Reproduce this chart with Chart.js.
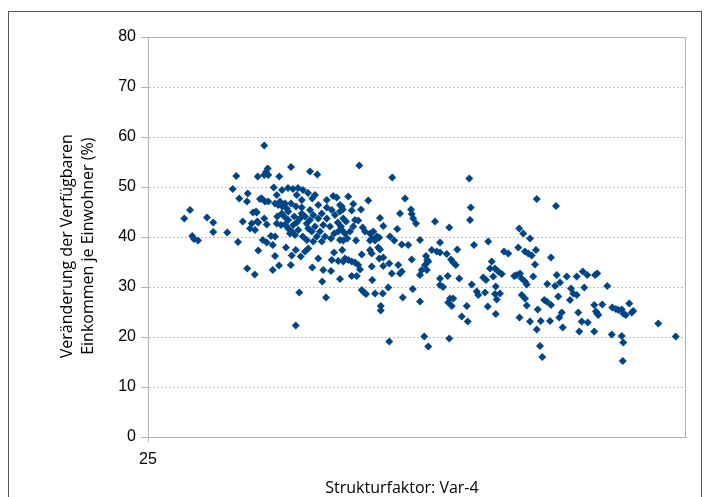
<!DOCTYPE html>
<html><head><meta charset="utf-8">
<script src="https://cdn.jsdelivr.net/npm/chart.js@4/dist/chart.umd.min.js"></script>
<style>html,body{margin:0;padding:0;background:#fff;}#wrap{position:relative;width:706px;height:497px;}</style>
</head><body><div id="wrap"><canvas id="c" width="706" height="497"></canvas></div>
<script>
const xTitle = 'Strukturfaktor: Var-4';
const yTitle = ['Veränderung der Verfügbaren', 'Einkommen je Einwohner (%)'];
const xTickValues = [25];
const yTickValues = [0, 10, 20, 30, 40, 50, 60, 70, 80];

const strukturfaktor = [
26.45,26.68,26.77,26.84,27.0,27.36,27.61,27.61,28.17,28.6,
28.53,28.39,28.99,28.65,28.96,28.79,29.2,29.32,29.15,29.37,
29.08,29.28,29.41,28.97,29.27,29.39,29.48,29.65,29.79,29.72,
29.81,29.65,30.72,30.25,31.48,31.77,30.03,29.55,29.68,29.81,
29.35,29.65,29.41,29.75,30.17,29.92,30.08,29.59,29.75,29.99,
30.08,29.99,30.24,30.71,30.52,30.75,30.91,31.11,31.28,31.41,
31.57,31.81,32.01,32.32,31.97,32.68,32.12,31.05,30.91,32.44,
32.77,32.35,32.61,32.81,30.36,30.6,30.8,31.0,31.2,31.4,
30.95,31.15,31.57,31.68,31.81,32.15,32.41,32.55,32.75,30.28,
30.21,30.37,30.55,30.48,30.61,30.35,30.45,30.61,30.15,30.32,
30.48,30.61,30.75,30.88,30.68,30.81,30.95,31.08,31.15,31.28,
31.35,31.48,31.41,31.55,31.68,31.75,31.88,32.01,32.15,32.28,
32.48,32.59,32.72,32.61,32.45,32.32,32.08,31.95,31.61,31.35,
31.19,31.01,30.85,30.72,30.92,31.15,31.48,31.61,31.81,31.95,
32.15,32.35,32.68,32.81,30.15,30.08,33.45,34.77,33.01,33.21,
33.15,32.79,32.68,33.81,33.52,35.28,35.08,35.52,35.55,35.61,
35.72,34.28,34.41,34.97,32.92,33.28,33.41,33.21,33.08,32.88,
32.75,32.97,32.81,32.68,33.32,33.59,33.68,33.88,34.01,33.95,
34.15,34.25,34.08,33.88,34.68,34.85,35.15,35.41,35.88,33.88,
33.95,34.21,34.28,33.55,32.88,33.01,33.15,33.28,33.41,33.48,
34.25,34.41,34.65,34.41,33.95,35.55,35.01,35.15,35.08,34.75,
36.12,36.17,36.08,35.95,35.88,33.15,33.35,33.97,33.55,33.64,
33.72,34.08,34.39,34.61,35.19,35.59,35.88,34.31,34.31,34.65,
36.05,36.21,37.85,37.91,37.88,36.48,37.05,36.68,38.04,38.61,
37.37,36.35,36.55,36.68,36.21,36.15,36.95,37.12,37.21,37.31,
39.24,39.41,38.75,38.68,38.88,39.01,38.81,39.15,39.65,36.68,
36.99,37.45,36.68,36.8,38.41,38.52,37.95,38.15,38.21,38.48,
38.91,38.88,39.08,38.95,37.08,37.21,37.01,37.15,37.75,38.59,
37.55,37.79,38.91,37.05,40.55,41.32,39.85,40.01,40.28,39.81,
40.08,40.21,40.35,40.52,41.12,40.48,39.75,39.88,39.95,40.08,
40.15,40.41,41.35,41.48,41.28,40.97,41.75,42.15,42.39,42.57,
42.88,42.97,42.45,41.92,42.01,42.15,41.88,41.41,39.95,40.08,
40.15,40.85,40.95,41.12,40.59,41.55,41.45,42.21,42.85,42.92,
42.97,39.86,40.28,40.71,41.08,40.55,41.59,42.35,42.59,42.25,
42.85,40.68,40.77,43.37,43.17,43.01,43.57,43.71,43.81,43.95,
44.01,44.11,44.25,44.35,44.41,45.41,43.55,43.95,44.01,46.11,
43.99
];

const veraenderung = [
43.7,45.4,40.2,39.6,39.3,43.9,42.9,41.0,40.9,39.0,
52.2,49.6,48.7,47.7,47.1,43.1,44.9,45.1,42.7,43.1,
41.7,41.4,37.3,33.7,32.5,52.1,47.6,58.3,53.7,53.0,
52.4,52.4,54.0,52.1,53.1,52.5,49.9,47.7,47.1,47.1,
44.9,43.7,42.9,42.5,44.1,40.2,40.1,39.4,38.9,38.4,
36.2,33.4,34.3,34.4,37.9,36.3,37.4,36.1,37.1,37.7,
33.9,35.7,33.4,33.2,31.1,31.6,27.9,28.9,22.3,36.9,
37.4,35.4,35.2,35.1,49.4,49.8,49.6,49.8,49.4,48.8,
48.4,47.4,47.7,48.4,46.4,47.4,48.2,47.9,46.1,47.1,
46.4,46.1,45.7,46.7,45.1,44.7,44.1,43.4,42.7,42.4,
42.5,41.7,41.1,40.4,40.7,42.4,42.9,43.7,44.7,44.1,
42.7,43.4,41.7,41.1,42.1,40.1,41.1,42.4,43.7,42.1,
44.4,42.9,42.1,41.1,40.7,39.7,40.1,39.1,39.1,39.4,
40.1,41.4,44.1,46.7,46.1,45.9,45.4,44.4,43.7,44.7,
45.9,45.4,45.1,43.7,48.4,46.7,54.3,51.9,48.1,46.6,
45.3,45.5,46.4,47.3,45.5,47.7,44.7,45.5,44.6,43.7,
42.7,43.8,42.2,41.6,43.1,43.4,43.3,42.1,41.1,40.7,
41.4,39.7,39.3,39.4,39.3,41.9,41.1,40.7,41.1,39.7,
40.1,39.9,39.3,39.3,40.1,39.3,38.5,38.4,39.4,37.4,
36.7,37.9,37.5,36.5,35.7,35.4,35.1,34.9,34.4,33.5,
35.7,35.9,34.7,34.2,34.1,35.5,34.4,33.1,32.7,32.7,
36.2,35.4,34.4,33.4,32.4,32.2,32.2,31.4,29.4,28.9,
28.6,28.7,28.7,29.9,27.9,29.6,27.1,26.2,25.3,19.1,
20.1,18.1,51.7,45.9,43.4,43.1,41.9,38.9,38.4,39.1,
37.5,37.4,37.1,36.9,35.1,33.4,36.6,35.5,34.9,34.4,
37.1,36.7,35.1,33.7,33.7,33.1,32.1,32.6,32.2,31.7,
32.2,31.7,30.4,30.0,31.9,31.4,30.5,29.1,28.4,28.9,
30.1,28.6,28.7,27.5,27.7,27.7,26.9,26.2,26.2,26.1,
24.1,23.1,24.6,19.7,47.6,46.2,41.7,40.7,39.7,37.9,
37.1,36.7,36.3,37.4,35.9,34.5,32.4,32.7,31.7,31.1,
30.5,32.1,32.4,30.9,30.2,30.6,32.1,32.1,33.1,32.4,
32.4,32.7,29.9,29.7,28.7,28.4,27.4,28.1,28.4,27.7,
26.3,27.4,27.1,26.4,25.5,24.9,23.9,24.9,26.4,25.1,
24.7,23.9,23.1,23.2,23.2,21.5,21.9,23.1,22.9,21.1,
21.1,18.2,16.0,30.2,26.5,24.4,25.9,25.6,25.4,25.5,
24.7,24.4,26.7,24.9,25.2,22.7,20.5,20.2,18.9,20.1,
15.2
];

const points = strukturfaktor.map((x, i) => ({ x: x, y: veraenderung[i] }));

const GRID = '#b3b3b3';
const tickFont = { family: '"Liberation Sans", Arial, sans-serif', size: 16 };

const decor = {
  id: 'decor',
  beforeDraw(chart) {
    const ctx = chart.ctx;
    ctx.save();
    ctx.fillStyle = '#fff';
    ctx.fillRect(0, 0, chart.width, chart.height);
    ctx.strokeStyle = '#555';
    ctx.lineWidth = 1;
    ctx.strokeRect(8.5, 11.5, 693, 600);
    ctx.restore();
  },
  beforeDatasetsDraw(chart) {
    const a = chart.chartArea, ctx = chart.ctx;
    ctx.save();
    ctx.strokeStyle = GRID;
    ctx.lineWidth = 1;
    ctx.strokeRect(Math.round(a.left) + 0.5, Math.round(a.top) + 0.5, Math.round(a.width) - 1, Math.round(a.height));
    ctx.restore();
  },
  afterDraw(chart) {
    const a = chart.chartArea, ctx = chart.ctx;
    ctx.save();
    ctx.fillStyle = '#000';
    ctx.font = '16px "Open Sans", sans-serif';
    ctx.textAlign = 'center';
    ctx.textBaseline = 'middle';
    ctx.fillText(xTitle, a.left + a.width * 0.472, 488);
    const cy = a.top + a.height * 0.523;
    [67, 88].forEach((cx, i) => {
      ctx.save();
      ctx.translate(cx, cy);
      ctx.rotate(-Math.PI / 2);
      ctx.fillText(yTitle[i], 0, 0);
      ctx.restore();
    });
    ctx.restore();
  }
};

new Chart(document.getElementById('c'), {
  type: 'scatter',
  data: {
    datasets: [{
      data: points,
      pointStyle: 'rectRot',
      radius: 4,
      hoverRadius: 4,
      backgroundColor: '#004586',
      borderColor: '#004586',
      borderWidth: 0
    }]
  },
  options: {
    responsive: false,
    animation: false,
    events: [],
    layout: { padding: { left: 0, top: 37, right: 20, bottom: 0 } },
    plugins: { legend: { display: false }, tooltip: { enabled: false } },
    scales: {
      x: {
        type: 'linear',
        min: 25,
        max: 46.52,
        afterBuildTicks: s => { s.ticks = xTickValues.map(v => ({ value: v })); },
        afterFit: s => { s.height = 60; },
        grid: { drawOnChartArea: false, drawTicks: true, tickLength: 5, color: GRID },
        border: { color: GRID },
        ticks: { font: tickFont, color: '#000', padding: 8, maxRotation: 0, autoSkip: false }
      },
      y: {
        min: 0,
        max: 80,
        afterBuildTicks: s => { s.ticks = yTickValues.map(v => ({ value: v })); },
        afterFit: s => { s.width = 148; },
        grid: { color: '#bdbdbd', tickLength: 7, tickColor: GRID },
        border: { color: GRID, dash: [2, 2] },
        ticks: { font: tickFont, color: '#000', padding: 5 }
      }
    }
  },
  plugins: [decor]
});
</script>
</body></html>
